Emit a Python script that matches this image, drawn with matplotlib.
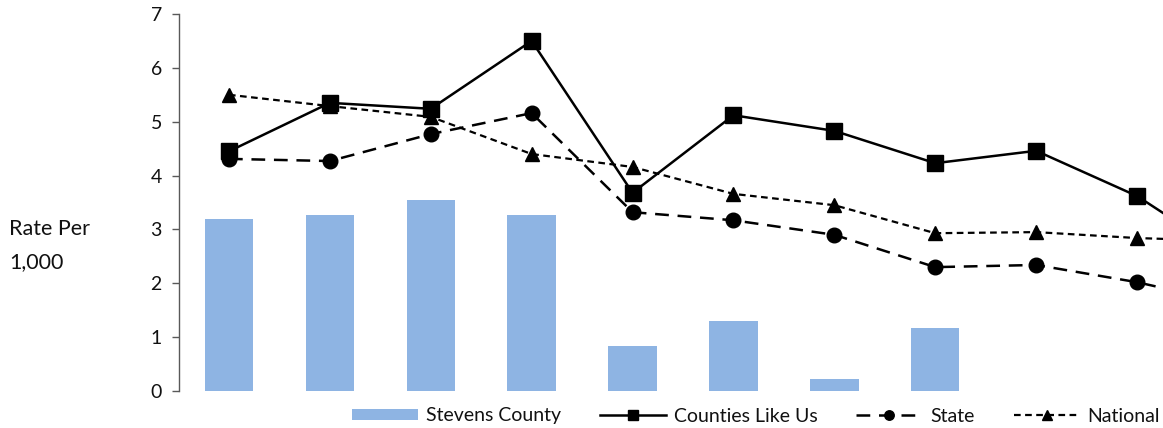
import matplotlib
matplotlib.use("Agg")
import matplotlib.pyplot as plt
import numpy as np

plt.rcParams['font.family'] = ['Lato', 'DejaVu Sans']

# Category slots (labels not shown in the reference)
categories = list(range(11))
stevens = [3.19, 3.27, 3.55, 3.27, 0.84, 1.30, 0.22, 1.17, 0.0, 0.0, 0.0]
counties = [4.45, 5.35, 5.24, 6.50, 3.68, 5.12, 4.83, 4.23, 4.46, 3.62, 2.40]
state = [4.31, 4.27, 4.77, 5.16, 3.32, 3.17, 2.90, 2.30, 2.34, 2.02, 1.60]
national = [5.50, 5.29, 5.09, 4.40, 4.16, 3.66, 3.45, 2.93, 2.95, 2.84, 2.78]

W, H = 1163, 428
fig = plt.figure(figsize=(W / 100, H / 100), dpi=100)
spacing = 100.9
left_px = 178.5
ax = fig.add_axes([left_px / W, 1 - 391 / H, spacing * len(categories) / W, (391 - 14) / H])

x = np.arange(len(categories))
bars = ax.bar(x, stevens, width=0.48, color='#8EB4E3', label='Stevens County', zorder=1)
l1, = ax.plot(x, counties, color='black', lw=1.8, marker='s', markersize=11,
              label='Counties Like Us', zorder=3)
l2, = ax.plot(x, state, color='black', lw=1.8, ls=(0, (5.5, 3.5)), marker='o', markersize=10.5,
              label='State', zorder=3)
l3, = ax.plot(x, national, color='black', lw=1.6, ls=(0, (3, 2)), marker='^', markersize=10,
              label='National', zorder=3)

ax.set_xlim(-0.5, len(categories) - 0.5)
ax.set_ylim(0, 7)
ax.set_yticks(range(0, 8))
ax.set_xticks([])
for s in ['top', 'right', 'bottom']:
    ax.spines[s].set_visible(False)
ax.spines['left'].set_color('#595959')
ax.spines['left'].set_linewidth(1.0)
ax.tick_params(axis='y', direction='out', length=5, width=1, color='#595959',
               labelsize=14, pad=7, labelcolor='#111111')

fig.text(9 / W, 1 - 229 / H, 'Rate Per', fontsize=15.5, va='center', ha='left', color='#111111')
fig.text(9 / W, 1 - 262 / H, '1,000', fontsize=15.5, va='center', ha='left', color='#111111')

leg = fig.legend([bars, l1, l2, l3], ['Stevens County', 'Counties Like Us', 'State', 'National'],
                 loc='center', bbox_to_anchor=(756 / W, 1 - 416 / H), ncol=4, frameon=False,
                 fontsize=14, handlelength=3.4, handletextpad=0.4, columnspacing=2.0,
                 handleheight=0.55, borderpad=0, borderaxespad=0, markerscale=0.65)
for t in leg.get_texts():
    t.set_color('#111111')

fig.savefig('out.png', dpi=100)
